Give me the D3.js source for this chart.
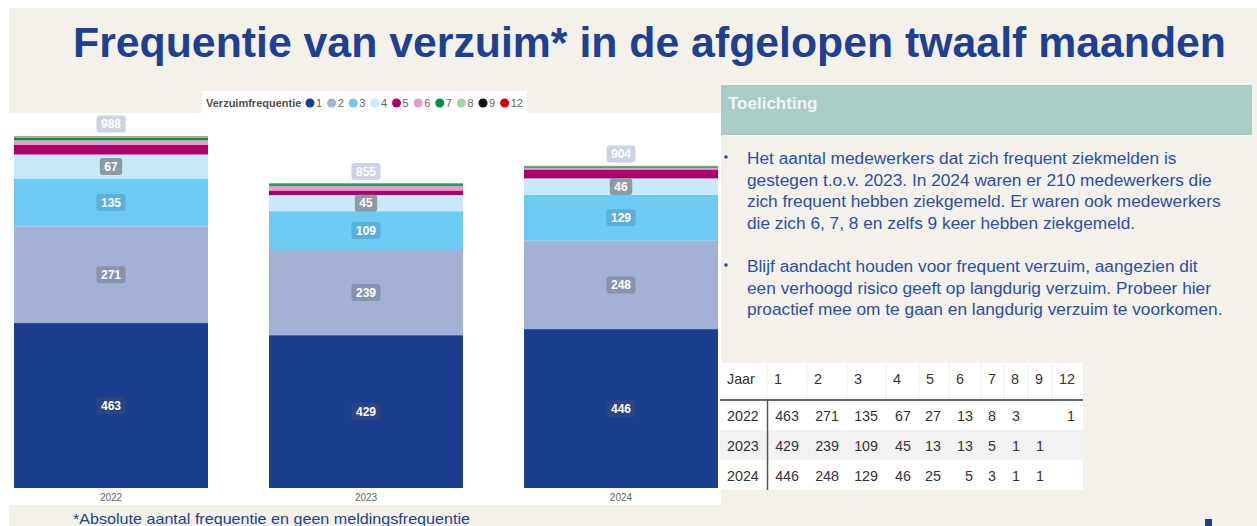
<!DOCTYPE html>
<html>
<head>
<meta charset="utf-8">
<script src="https://cdn.jsdelivr.net/npm/d3@7"></script>
<style>
  body { margin: 0; background: #ffffff; }
  svg { display: block; font-family: "Liberation Sans", Arial, sans-serif; }
</style>
</head>
<body>
<div id="chart"></div>
<script>
// data
var years = ["2022", "2023", "2024"];
var freqKeys = ["1", "2", "3", "4", "5", "6", "7", "8", "9", "12"];
var freqColors = ["#1c3e8e", "#a3b1d5", "#6dcaf2", "#c7e9f9", "#ad006f",
                  "#e29dca", "#00913c", "#9dd5a8", "#111111", "#d9000f"];
var counts2022 = [463, 271, 135, 67, 27, 13, 8, 3, 0, 1];
var counts2023 = [429, 239, 109, 45, 13, 13, 5, 1, 1, 0];
var counts2024 = [446, 248, 129, 46, 25, 5, 3, 1, 1, 0];
var labelBoxColors = ["#2b4484", "#8993b1", "#5cafd8", "#8b9ba6"];
var tableHeader = ["Jaar"].concat(freqKeys);

var titleText = "Frequentie van verzuim* in de afgelopen twaalf maanden";
var footText = "*Absolute aantal frequentie en geen meldingsfrequentie";
var bullet1 = ["Het aantal medewerkers dat zich frequent ziekmelden is",
               "gestegen t.o.v. 2023. In 2024 waren er 210 medewerkers die",
               "zich frequent hebben ziekgemeld. Er waren ook medewerkers",
               "die zich 6, 7, 8 en zelfs 9 keer hebben ziekgemeld."];
var bullet2 = ["Blijf aandacht houden voor frequent verzuim, aangezien dit",
               "een verhoogd risico geeft op langdurig verzuim. Probeer hier",
               "proactief mee om te gaan en langdurig verzuim te voorkomen."];

var W = 1257, H = 526;
var blue = "#1f3f90", beige = "#f4f1eb";

var svg = d3.select("#chart").append("svg")
  .attr("width", W).attr("height", H);

// slide background
svg.append("rect").attr("x", 9).attr("y", 8).attr("width", W - 9).attr("height", H - 8)
  .attr("fill", beige);

// title
svg.append("text")
  .attr("x", 73).attr("y", 57)
  .attr("font-size", 43).attr("font-weight", "bold")
  .attr("fill", blue)
  .attr("textLength", 1153).attr("lengthAdjust", "spacingAndGlyphs")
  .text(titleText);

// white chart panel + legend strip
svg.append("rect").attr("x", 9).attr("y", 113).attr("width", 712).attr("height", 392)
  .attr("fill", "#ffffff");
svg.append("rect").attr("x", 202).attr("y", 91).attr("width", 325).attr("height", 22)
  .attr("fill", "#ffffff");

// ---------- stacked bars ----------
var rows = years.map(function(y, i) {
  var vals = [counts2022, counts2023, counts2024][i];
  var r = {year: y};
  freqKeys.forEach(function(k, j) { r[k] = vals[j]; });
  r.total = d3.sum(vals);
  return r;
});

var stack = d3.stack().keys(freqKeys)(rows);

var x = d3.scaleBand().domain(years).range([14, 718]).paddingInner(0.2392);
var y = d3.scaleLinear().domain([0, 988]).range([488, 136]);
var color = d3.scaleOrdinal().domain(freqKeys).range(freqColors);

var layers = svg.append("g").selectAll("g")
  .data(stack).enter().append("g")
    .attr("fill", function(d) { return color(d.key); });

layers.selectAll("rect")
  .data(function(d) { return d; })
  .enter().append("rect")
    .attr("x", function(d) { return x(d.data.year); })
    .attr("y", function(d) { return y(d[1]); })
    .attr("height", function(d) { return y(d[0]) - y(d[1]); })
    .attr("width", x.bandwidth());

// segment labels (only the four big series get one)
function addLabel(g, cx, cy, txt, fill) {
  var t = g.append("text")
    .attr("x", cx).attr("y", cy).attr("dy", "0.35em")
    .attr("text-anchor", "middle")
    .attr("font-size", 12).attr("font-weight", "bold")
    .attr("fill", "#ffffff").text(txt);
  var w = t.node().getComputedTextLength() + 9;
  g.insert("rect", "text:last-child")
    .attr("x", cx - w / 2).attr("y", cy - 8.5)
    .attr("width", w).attr("height", 17).attr("rx", 3)
    .attr("fill", fill);
}

var labels = svg.append("g");
stack.slice(0, 4).forEach(function(layer, li) {
  layer.forEach(function(d) {
    var g = labels.append("g");
    addLabel(g, x(d.data.year) + x.bandwidth() / 2, y((d[0] + d[1]) / 2),
             d[1] - d[0], labelBoxColors[li]);
  });
});
rows.forEach(function(r) {
  var g = labels.append("g");
  addLabel(g, x(r.year) + x.bandwidth() / 2, y(r.total) - 12, r.total, "#cbd3e8");
});

// x axis
var xAxis = svg.append("g")
  .attr("transform", "translate(0,488)")
  .call(d3.axisBottom(x).tickSize(0).tickPadding(6));
xAxis.select(".domain").remove();
xAxis.selectAll("text")
  .attr("font-size", 10).attr("fill", "#666666")
  .attr("font-family", "Liberation Sans, Arial, sans-serif");

// legend
var legend = svg.append("g").attr("transform", "translate(206,103)");
legend.append("text")
  .attr("x", 0).attr("dy", "0.35em")
  .attr("font-size", 11).attr("font-weight", "bold").attr("fill", "#505050")
  .text("Verzuimfrequentie");
var lx = 104;
freqKeys.forEach(function(k) {
  legend.append("circle").attr("cx", lx).attr("cy", 0).attr("r", 4.5)
    .attr("fill", color(k));
  var t = legend.append("text")
    .attr("x", lx + 6).attr("dy", "0.35em")
    .attr("font-size", 11).attr("fill", "#666666").text(k);
  lx += 6 + t.node().getComputedTextLength() + 9.5;
});

// footnote
svg.append("text")
  .attr("x", 73).attr("y", 524)
  .attr("font-size", 15).attr("fill", blue)
  .attr("textLength", 397).attr("lengthAdjust", "spacingAndGlyphs")
  .text(footText);

// ---------- right panel ----------
svg.append("rect").attr("x", 721).attr("y", 85).attr("width", 531).attr("height", 50)
  .attr("fill", "#a9cdc6");
svg.append("text")
  .attr("x", 728).attr("y", 109)
  .attr("font-size", 17).attr("font-weight", "bold").attr("fill", "#eef6f4")
  .text("Toelichting");

var textColor = "#2d4ea6";
function bulletBlock(lines, top) {
  svg.append("circle").attr("cx", 726).attr("cy", top - 1).attr("r", 1.8).attr("fill", textColor);
  lines.forEach(function(l, i) {
    svg.append("text")
      .attr("x", 747).attr("y", top + i * 21.7).attr("dy", "0.35em")
      .attr("font-size", 17.3).attr("fill", textColor)
      .text(l);
  });
}
bulletBlock(bullet1, 158);
bulletBlock(bullet2, 266);

// table
var colEdges = [720, 767, 807, 847, 886, 919, 949, 981, 1004, 1028, 1052, 1083];
var headTop = 363, headH = 37, rowH = 30;
var tbl = svg.append("g");
tbl.append("rect").attr("x", 720).attr("y", headTop)
  .attr("width", 363).attr("height", headH + rowH * 3).attr("fill", "#ffffff");
tbl.append("rect").attr("x", 720).attr("y", headTop + headH + rowH)
  .attr("width", 363).attr("height", rowH).attr("fill", "#f2f2f2");
colEdges.slice(1, -1).forEach(function(cx) {
  tbl.append("line").attr("x1", cx).attr("x2", cx)
    .attr("y1", headTop).attr("y2", headTop + headH)
    .attr("stroke", "#eeeeee").attr("stroke-width", 1);
});
tableHeader.forEach(function(h, i) {
  tbl.append("text")
    .attr("x", colEdges[i] + 7).attr("y", headTop + headH / 2 - 3).attr("dy", "0.35em")
    .attr("font-size", 14.3).attr("fill", "#333333").text(h);
});
tbl.append("line").attr("x1", 720).attr("x2", 1083)
  .attr("y1", headTop + headH).attr("y2", headTop + headH)
  .attr("stroke", "#666666").attr("stroke-width", 2);
tbl.append("line").attr("x1", 767.5).attr("x2", 767.5)
  .attr("y1", headTop + headH).attr("y2", headTop + headH + rowH * 3)
  .attr("stroke", "#555555").attr("stroke-width", 1.5);
rows.forEach(function(r, ri) {
  var cy = headTop + headH + rowH * ri + rowH / 2 + 1;
  tbl.append("text")
    .attr("x", 727).attr("y", cy).attr("dy", "0.35em")
    .attr("font-size", 14.3).attr("fill", "#333333").text(r.year);
  freqKeys.forEach(function(k, ki) {
    if (!r[k]) return;
    tbl.append("text")
      .attr("x", colEdges[ki + 2] - 8).attr("y", cy).attr("dy", "0.35em")
      .attr("text-anchor", "end")
      .attr("font-size", 14.3).attr("fill", "#333333").text(r[k]);
  });
});

// little logo corner
svg.append("rect").attr("x", 1205).attr("y", 519).attr("width", 7).attr("height", 7)
  .attr("fill", blue);
</script>
</body>
</html>
